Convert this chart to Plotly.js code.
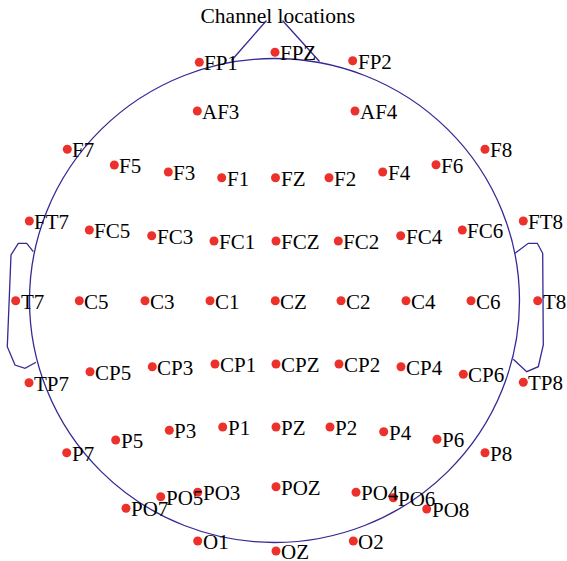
<!DOCTYPE html>
<html>
<head>
<meta charset="utf-8">
<script src="https://cdn.plot.ly/plotly-3.0.1.min.js"></script>
<style>html,body{margin:0;padding:0;background:#fff;}#plot{width:567px;height:561px;}</style>
</head>
<body>
<div id="plot"></div>
<script>
// Channel labels
const channels = ["FP1","FPZ","FP2","AF3","AF4",
  "F7","F5","F3","F1","FZ","F2","F4","F6","F8",
  "FT7","FC5","FC3","FC1","FCZ","FC2","FC4","FC6","FT8",
  "T7","C5","C3","C1","CZ","C2","C4","C6","T8",
  "TP7","CP5","CP3","CP1","CPZ","CP2","CP4","CP6","TP8",
  "P7","P5","P3","P1","PZ","P2","P4","P6","P8",
  "PO7","PO5","PO3","POZ","PO4","PO6","PO8",
  "O1","OZ","O2"];
// Channel positions (head-centred units, head radius about 245 across)
const chanX = [-75.2,0.5,78.2,-77.2,80.5,
  -207.2,-160.2,-106.2,-52.8,1,54.5,108.2,161.5,210.5,
  -245.2,-185.2,-122.8,-60.5,1.5,63.8,126.2,187.8,248.8,
  -258.8,-195.2,-129.5,-64.5,0.8,66.5,131.5,196.5,263.2,
  -245.5,-184.5,-122.2,-59.5,1.5,64.5,126.5,188.8,248.8,
  -207.8,-158.8,-105.2,-51.8,1.5,55.5,109.2,162.5,210.5,
  -148.5,-113.8,-76.8,1.5,81.5,118.8,152.2,
  -76.8,1.5,78.8];
const chanY = [238.2,248.2,239.8,189.5,189.5,
  151.2,135.5,128.5,122.8,122.8,122.8,128.5,135.8,151.2,
  79.5,70.5,64.8,59.5,59.5,59.5,64.8,70.5,79.5,
  -0.2,-0.2,-0.2,-0.2,-0.2,-0.2,-0.2,-0.2,-0.2,
  -82.2,-71.2,-66.2,-63.5,-63.5,-63.5,-66.2,-73.8,-81.8,
  -152.2,-139.5,-129.8,-126.5,-126.5,-126.5,-131.2,-138.8,-152.2,
  -207.8,-196.2,-191.8,-186.2,-191.8,-197.2,-208.5,
  -240.5,-250.5,-240.5];
// Head outline
const headRX = 245, headRY = 242;
const leftEarX = [-241.2,-247.8,-256.2,-263.5,-267.2,-259.5,-249.5,-238.5];
const leftEarY = [48.8,57.2,57.2,45.5,-46.2,-64.5,-67.8,-61.8];
const rightEarX = [240.5,253.8,262.8,268.2,268.8,263.8,252.2,238.8];
const rightEarY = [47.2,57.2,57.2,47.2,-44.5,-66.2,-71.2,-58.8];
const noseLeftX = [-43,-8], noseLeftY = [240,280];
const noseRightX = [8,45], noseRightY = [280,239];

const serif = '"Liberation Serif", "Times New Roman", serif';
const lineColor = 'rgb(52,42,148)';
const lineStyle = {color: lineColor, width: 1.3};

const traces = [
  {x: leftEarX, y: leftEarY, mode:'lines', line: lineStyle, hoverinfo:'skip'},
  {x: rightEarX, y: rightEarY, mode:'lines', line: lineStyle, hoverinfo:'skip'},
  {x: noseLeftX, y: noseLeftY, mode:'lines', line: lineStyle, hoverinfo:'skip'},
  {x: noseRightX, y: noseRightY, mode:'lines', line: lineStyle, hoverinfo:'skip'},
  {x: chanX, y: chanY, text: channels, mode:'markers',
   marker:{size:9, color:'rgb(236,48,44)'}, cliponaxis:false}
];

const labelAnnotations = channels.map((name, i) => ({
  x: chanX[i], y: chanY[i], xref:'x', yref:'y', text: name,
  showarrow:false, xanchor:'left', yanchor:'middle', xshift:3, yshift:-1,
  font:{family: serif, size:21, color:'#000'}
}));

const layout = {
  width:567, height:561,
  margin:{l:0,r:0,t:0,b:0},
  paper_bgcolor:'#fff', plot_bgcolor:'#fff',
  showlegend:false,
  title:{text:'Channel locations', x:0.49, xanchor:'center', y:0.972, yanchor:'middle',
    font:{family: serif, size:21.5, color:'#000'}},
  xaxis:{range:[-274.5,292.5], visible:false, fixedrange:true},
  yaxis:{range:[-260.5,300.5], visible:false, fixedrange:true},
  annotations: labelAnnotations,
  shapes:[{type:'circle', xref:'x', yref:'y', x0:-headRX, x1:headRX, y0:-headRY, y1:headRY,
    line:lineStyle, layer:'below'}]
};

Plotly.newPlot('plot', traces, layout, {staticPlot:true, displayModeBar:false});
</script>
</body>
</html>
